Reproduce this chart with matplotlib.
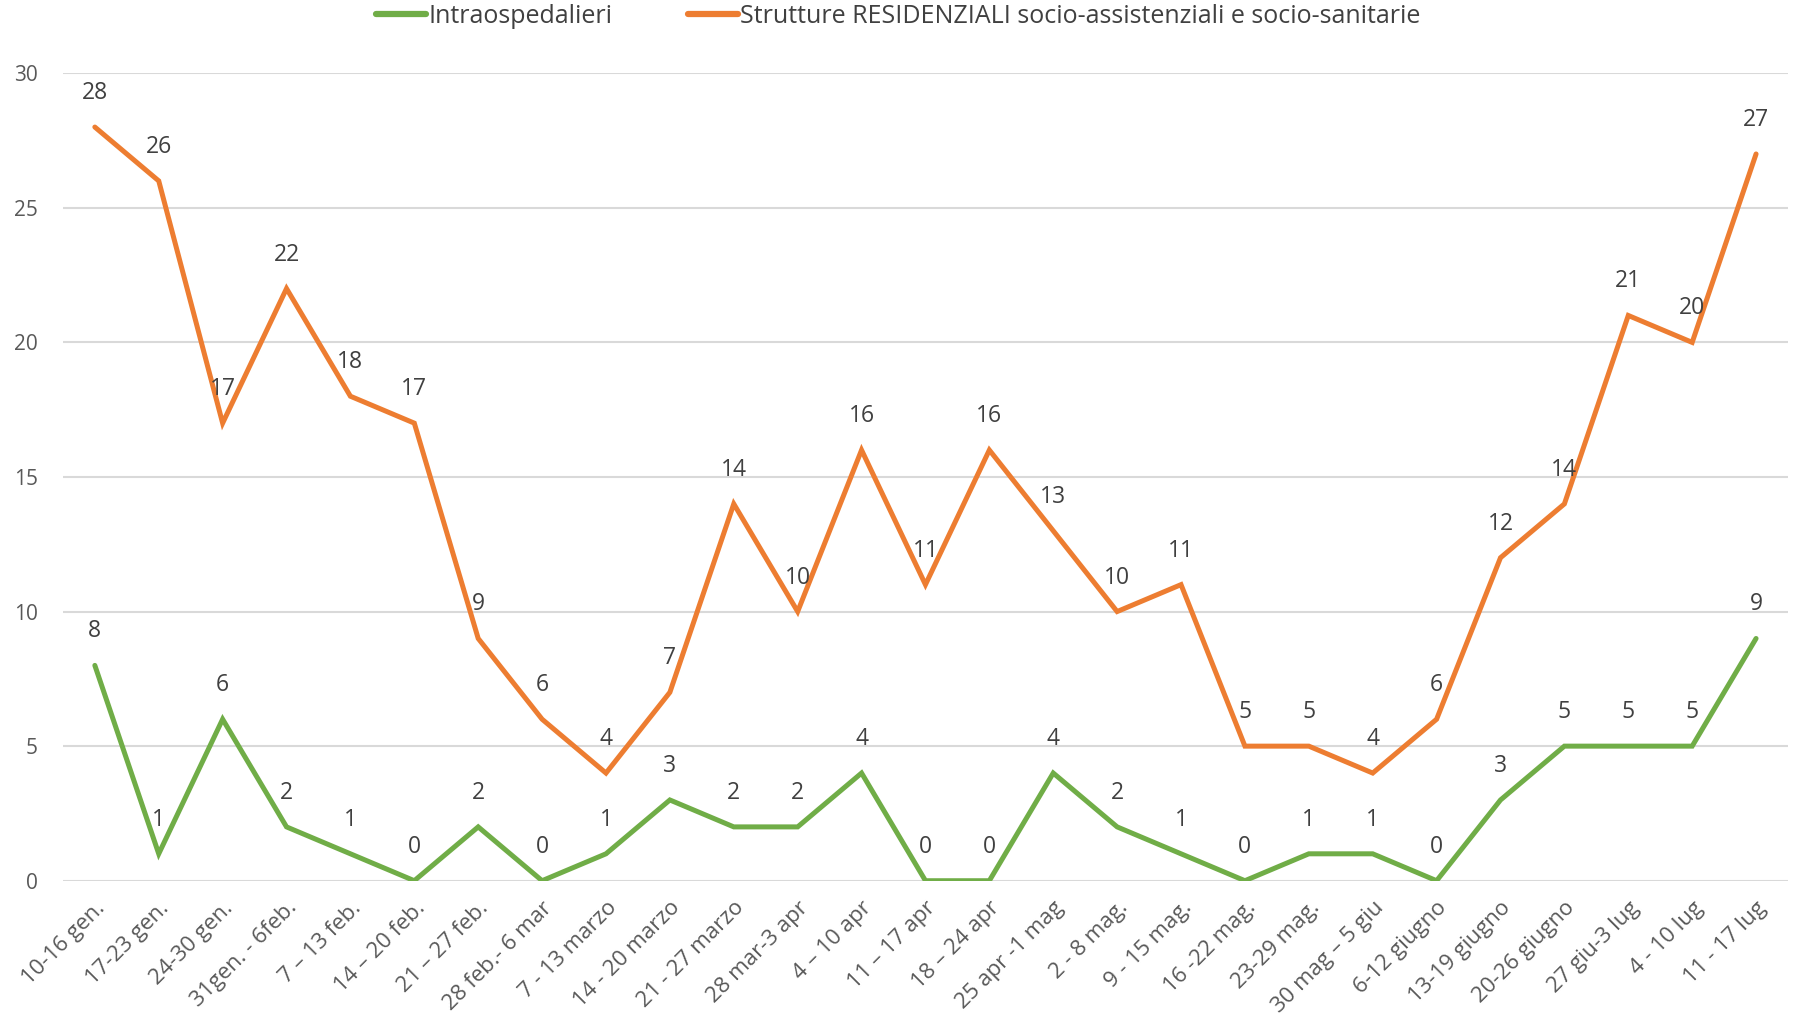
from matplotlib import pyplot as plt
import numpy as np

plt.rcParams['font.family'] = ['Open Sans', 'DejaVu Sans']

labels = ["10-16 gen.", "17-23 gen.", "24-30 gen.", "31gen. - 6feb.", "7 – 13 feb.",
          "14 – 20 feb.", "21 – 27 feb.", "28 feb.- 6 mar", "7 - 13 marzo", "14 - 20 marzo",
          "21 - 27 marzo", "28 mar-3 apr", "4 – 10 apr", "11 – 17 apr", "18 – 24 apr",
          "25 apr -1 mag", "2 - 8 mag.", "9 - 15 mag.", "16 -22 mag.", "23-29 mag.",
          "30 mag – 5 giu", "6-12 giugno", "13-19 giugno", "20-26 giugno", "27 giu-3 lug",
          "4 - 10 lug", "11 - 17 lug"]
intra = [8, 1, 6, 2, 1, 0, 2, 0, 1, 3, 2, 2, 4, 0, 0, 4, 2, 1, 0, 1, 1, 0, 3, 5, 5, 5, 9]
resid = [28, 26, 17, 22, 18, 17, 9, 6, 4, 7, 14, 10, 16, 11, 16, 13, 10, 11, 5, 5, 4, 6,
         12, 14, 21, 20, 27]

green = "#70AD47"
orange = "#ED7D31"
txt = "#404040"
tick_col = "#595959"

fig = plt.figure(figsize=(17.97, 10.17), dpi=100)
ax = fig.add_axes([0.035, 0.134, 0.96, 0.794])

x = np.arange(len(labels))
ax.plot(x, intra, color=green, linewidth=3.6, solid_joinstyle="miter",
        solid_capstyle="round", label="Intraospedalieri", zorder=3)
ax.plot(x, resid, color=orange, linewidth=3.6, solid_joinstyle="miter",
        solid_capstyle="round",
        label="Strutture RESIDENZIALI socio-assistenziali e socio-sanitarie", zorder=3)

for xi, v in zip(x, intra):
    ax.annotate(str(v), (xi, v), xytext=(0, 34), textcoords="offset pixels",
                ha="center", va="center", fontsize=16.5, color=txt, zorder=4)
for xi, v in zip(x, resid):
    ax.annotate(str(v), (xi, v), xytext=(0, 34), textcoords="offset pixels",
                ha="center", va="center", fontsize=16.5, color=txt, zorder=4)

ax.set_xlim(-0.5, len(labels) - 0.5)
ax.set_ylim(0, 30)
ax.set_yticks([0, 5, 10, 15, 20, 25, 30])
ax.grid(axis="y", color="#D9D9D9", linewidth=1.5)
ax.set_axisbelow(True)
for s in ax.spines.values():
    s.set_visible(False)

ax.set_xticks(x)
ax.set_xticklabels(labels, rotation=45, ha="right", rotation_mode="anchor")
ax.tick_params(axis="x", length=0, pad=12, labelsize=16, labelcolor=tick_col)
ax.tick_params(axis="y", length=0, pad=18, labelsize=15, labelcolor=tick_col)

leg = fig.legend(loc="center", bbox_to_anchor=(0.5, 0.984), ncol=2, frameon=False,
                 fontsize=18, handlelength=2.0, columnspacing=3.0, handletextpad=0.1,
                 labelcolor=txt)
for h in leg.get_lines():
    h.set_linewidth(4.5)

fig.savefig("out.png", dpi=100)
